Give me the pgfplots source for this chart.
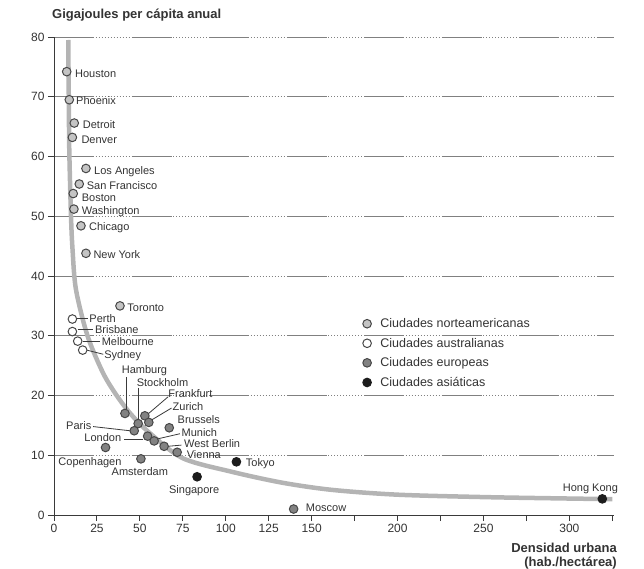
\documentclass[border=0pt]{standalone}
\usepackage{pgfplots}
\pgfplotsset{compat=1.18}
\usepackage{fontspec}
\setmainfont{Liberation Sans}
\definecolor{txt}{HTML}{333333}
\definecolor{axc}{HTML}{3A3A3A}
\definecolor{curvec}{HTML}{B4B4B4}
\definecolor{nafill}{HTML}{C4C4C4}
\definecolor{eufill}{HTML}{828282}
\definecolor{asfill}{HTML}{1C1C1C}
\definecolor{edge}{HTML}{474747}
\definecolor{gridc}{HTML}{808080}
\tikzset{
  lab/.style={anchor=west, inner sep=0pt, text height=7.9pt, text depth=0pt,
    font=\fontsize{11}{13}\selectfont, text=txt},
  lead/.style={draw=axc, line width=0.8pt}
}
\begin{document}
\begin{tikzpicture}
\path[use as bounding box] (-54pt,-53pt) rectangle (590pt,515pt);
\begin{axis}[
  scale only axis, width=560pt, height=478pt,
  xmin=0, xmax=326, ymin=0, ymax=80,
  axis lines=left,
  axis line style={-, draw=axc, line width=0.9pt},
  xtick={0,25,...,325},
  xticklabels={0,25,50,75,100,125,150,,200,,250,,300,},
  ytick={0,10,...,80},
  tick align=outside, major tick length=6pt,
  tick style={draw=axc, line width=0.9pt},
  ymajorgrids,
  grid style={draw=gridc, line width=0.6pt,
    dash pattern=on 40pt off 1.5pt on 1pt off 2pt on 1pt off 2pt on 1pt off 2pt on 1pt off 2pt on 1pt off 2pt on 1pt off 2pt on 1pt off 2pt on 1pt off 2pt on 1pt off 2pt on 1pt off 2pt on 1pt off 2pt on 1pt off 2pt},
  ticklabel style={font=\fontsize{12}{14}\selectfont, text=txt},
  /pgf/number format/assume math mode=true,
  clip=false,
  legend style={draw=none, fill=none, at={(axis cs:177.9,33.6)}, anchor=north west,
    font=\fontsize{12.5}{15}\selectfont, text=txt, row sep=5pt,
    /tikz/every odd column/.append style={column sep=7pt}},
  legend cell align=left,
]
% curve
\addplot[curvec, line width=4.5pt, smooth, tension=0.5, forget plot] coordinates {
 (8.3,79.5) (8.6,70) (8.9,61) (9.9,50) (10.8,44.4) (12.8,37.7) (19.5,30)
 (28.5,23.8) (36.5,20) (45,16.8) (55.8,13.7) (75,9.5) (104,7.2) (133,5.4)
 (162,4.2) (200,3.4) (250,3.0) (290,2.8) (325,2.65)};
% leader lines
\draw[lead] (axis cs:12.9,32.9) -- (axis cs:19.9,32.9);
\draw[lead] (axis cs:13.8,31.0) -- (axis cs:22.8,31.0);
\draw[lead] (axis cs:16.7,29.0) -- (axis cs:26.7,29.0);
\draw[lead] (axis cs:19.0,27.6) -- (axis cs:28.7,26.9);
\draw[lead] (axis cs:41.9,23.1) -- (axis cs:41.9,17.6);
\draw[lead] (axis cs:49.0,21.3) -- (axis cs:49.0,15.6);
\draw[lead] (axis cs:66.5,19.8) -- (axis cs:53.9,16.7);
\draw[lead] (axis cs:68.4,17.9) -- (axis cs:56.8,15.9);
\draw[lead] (axis cs:73.3,13.6) -- (axis cs:59.7,12.7);
\draw[lead] (axis cs:74.2,11.7) -- (axis cs:66.3,11.5);
\draw[lead] (axis cs:22.8,14.8) -- (axis cs:44.2,14.1);
\draw[lead] (axis cs:40.9,12.7) -- (axis cs:51.9,12.7);
% North American
\addplot[only marks, mark=*, mark size=4.3pt, mark options={fill=nafill, draw=edge, line width=1pt}] coordinates {
 (7.4,74.2) (8.9,69.5) (11.8,65.6) (10.7,63.2) (18.6,58.0) (14.7,55.4)
 (11.2,53.8) (11.6,51.2) (15.7,48.4) (18.6,43.8) (38.4,35.0)};
\addlegendentry{Ciudades norteamericanas}
% Australian
\addplot[only marks, mark=*, mark size=4.3pt, mark options={fill=white, draw=edge, line width=1pt}] coordinates {
 (10.7,32.8) (10.7,30.7) (13.8,29.1) (16.7,27.6)};
\addlegendentry{Ciudades australianas}
% European
\addplot[only marks, mark=*, mark size=4.3pt, mark options={fill=eufill, draw=edge, line width=1pt}] coordinates {
 (41.3,17.0) (49.0,15.3) (52.9,16.6) (55.2,15.5) (46.7,14.1) (67.1,14.6)
 (54.5,13.2) (58.3,12.4) (64.1,11.5) (71.7,10.5) (30.0,11.3) (50.6,9.4) (139.5,1.0)};
\addlegendentry{Ciudades europeas}
% Asian
\addplot[only marks, mark=*, mark size=4.3pt, mark options={fill=asfill, draw=asfill, line width=1pt}] coordinates {
 (83.3,6.4) (106.2,8.9) (319.2,2.7)};
\addlegendentry{Ciudades asiáticas}
% labels
\node[lab] at (axis cs:12.2,73.9) {Houston};
\node[lab] at (axis cs:12.8,69.3) {Phoenix};
\node[lab] at (axis cs:16.7,65.3) {Detroit};
\node[lab] at (axis cs:15.9,62.8) {Denver};
\node[lab] at (axis cs:23.3,57.7) {Los Angeles};
\node[lab] at (axis cs:19.0,55.1) {San Francisco};
\node[lab] at (axis cs:16.1,53.2) {Boston};
\node[lab] at (axis cs:16.1,51.0) {Washington};
\node[lab] at (axis cs:20.3,48.3) {Chicago};
\node[lab] at (axis cs:22.9,43.6) {New York};
\node[lab] at (axis cs:42.6,34.8) {Toronto};
\node[lab] at (axis cs:20.5,32.9) {Perth};
\node[lab] at (axis cs:23.8,31.0) {Brisbane};
\node[lab] at (axis cs:27.7,29.0) {Melbourne};
\node[lab] at (axis cs:29.2,26.9) {Sydney};
\node[lab] at (axis cs:39.4,24.3) {Hamburg};
\node[lab] at (axis cs:48.1,22.1) {Stockholm};
\node[lab] at (axis cs:66.5,20.4) {Frankfurt};
\node[lab] at (axis cs:69.0,18.2) {Zurich};
\node[lab] at (axis cs:71.9,16.0) {Brussels};
\node[lab] at (axis cs:74.2,13.8) {Munich};
\node[lab] at (axis cs:75.6,11.9) {West Berlin};
\node[lab] at (axis cs:77.2,10.2) {Vienna};
\node[lab] at (axis cs:7.0,14.9) {Paris};
\node[lab] at (axis cs:17.6,13.0) {London};
\node[lab] at (axis cs:2.5,9.0) {Copenhagen};
\node[lab] at (axis cs:33.5,7.2) {Amsterdam};
\node[lab] at (axis cs:66.9,4.3) {Singapore};
\node[lab] at (axis cs:111.6,8.8) {Tokyo};
\node[lab] at (axis cs:146.5,1.3) {Moscow};
\node[lab] at (axis cs:296.1,4.6) {Hong Kong};
% title and axis label
\node[anchor=west, inner sep=0pt, text height=9.4pt, text depth=0pt, font=\fontsize{13}{15}\selectfont\bfseries, text=txt]
  at ([xshift=-2pt, yshift=23pt]rel axis cs:0,1) {Gigajoules per cápita anual};
\node[anchor=base east, inner sep=0pt, font=\fontsize{13}{15}\selectfont\bfseries, text=txt]
  at ([xshift=3pt, yshift=-37.7pt]rel axis cs:1,0) {Densidad urbana};
\node[anchor=base east, inner sep=0pt, font=\fontsize{13}{15}\selectfont\bfseries, text=txt]
  at ([xshift=3pt, yshift=-51pt]rel axis cs:1,0) {(hab./hectárea)};
\end{axis}
\end{tikzpicture}
\end{document}
